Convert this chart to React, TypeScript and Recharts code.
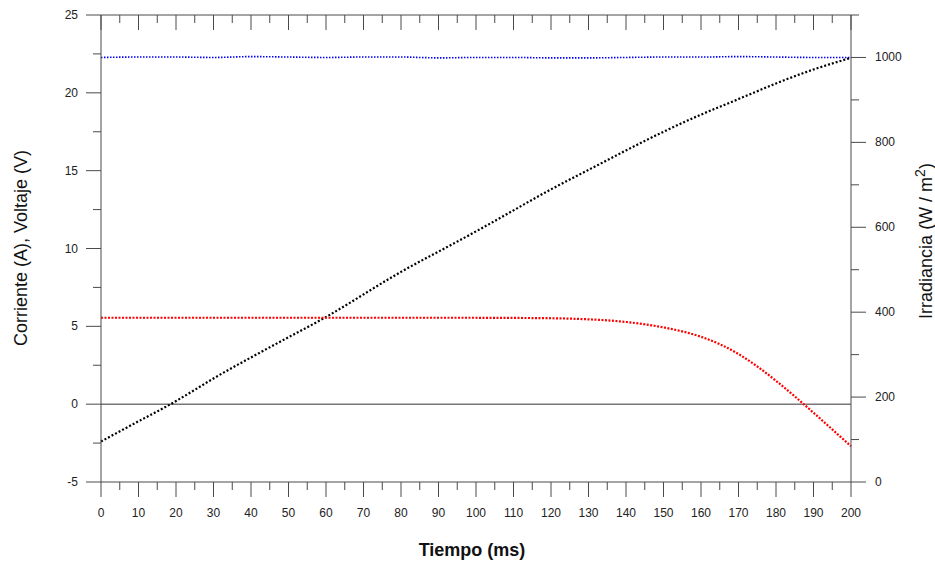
import { ComposedChart, Line, XAxis, YAxis, ReferenceLine } from 'recharts';

// tiempo (ms)
const tiempo = [0, 10, 20, 30, 40, 50, 60, 70, 80, 90, 100, 110, 120, 130, 140, 150, 160, 170, 180, 190, 200];
// voltaje (V), negro
const voltaje = [-2.4, -1.1, 0.2, 1.65, 3.0, 4.3, 5.6, 7.05, 8.5, 9.8, 11.1, 12.45, 13.8, 15.05, 16.3, 17.5, 18.6, 19.6, 20.6, 21.5, 22.25];
// corriente (A), rojo
const corriente = [5.55, 5.55, 5.55, 5.55, 5.55, 5.55, 5.55, 5.55, 5.55, 5.55, 5.55, 5.54, 5.52, 5.45, 5.28, 4.93, 4.33, 3.22, 1.5, -0.55, -2.7];
// irradiancia (W/m2), azul
const irradiancia = [1000, 1001, 1001, 1000, 1002, 1001, 1000, 1001, 1001, 999, 1000, 1000, 999, 999, 1000, 1001, 1001, 1002, 1001, 1000, 1000];

const xTicks = [0, 5, 10, 15, 20, 25, 30, 35, 40, 45, 50, 55, 60, 65, 70, 75, 80, 85, 90, 95, 100, 105, 110, 115, 120, 125, 130, 135, 140, 145, 150, 155, 160, 165, 170, 175, 180, 185, 190, 195, 200];
const leftTicks = [-5, -2.5, 0, 2.5, 5, 7.5, 10, 12.5, 15, 17.5, 20, 22.5, 25];
const rightTicks = [0, 100, 200, 300, 400, 500, 600, 700, 800, 900, 1000, 1100];

const data = tiempo.map((t, i) => ({ t, v: voltaje[i], c: corriente[i], g: irradiancia[i] }));

const AXIS = '#4a4a4a';
const FONT = '"Liberation Sans", Arial, sans-serif';

const BottomTick = (props: any) => {
    const { x, y, payload } = props;
    const major = payload.value % 10 === 0;
    return (
        <g>
            <line x1={x} x2={x} y1={y} y2={y + (major ? 15 : 8)} stroke={AXIS} />
            {major && <text x={x} y={y + 35} textAnchor="middle" fontSize={12} fontFamily={FONT} fill="#222">{payload.value}</text>}
        </g>
    );
};

const TopTick = (props: any) => {
    const { x, y, payload } = props;
    const major = payload.value % 10 === 0;
    return <line x1={x} x2={x} y1={y} y2={y + (major ? 15 : 8)} stroke={AXIS} />;
};

const LeftTick = (props: any) => {
    const { x, y, payload } = props;
    const major = payload.value % 5 === 0;
    return (
        <g>
            <line x1={x - (major ? 15 : 8)} x2={x} y1={y} y2={y} stroke={AXIS} />
            {major && <text x={x - 23} y={y + 4} textAnchor="end" fontSize={12} fontFamily={FONT} fill="#222">{payload.value}</text>}
        </g>
    );
};

const RightTick = (props: any) => {
    const { x, y, payload } = props;
    const major = payload.value % 200 === 0;
    return (
        <g>
            <line x1={x} x2={x + (major ? 15 : 8)} y1={y} y2={y} stroke={AXIS} />
            {major && <text x={x + 24} y={y + 4} textAnchor="start" fontSize={12} fontFamily={FONT} fill="#222">{payload.value}</text>}
        </g>
    );
};

export default function App() {
    return (
        <div style={{ position: 'absolute', left: 0, top: 0, width: 935, height: 561, background: '#fff', fontFamily: FONT }}>
            <ComposedChart width={935} height={561} data={data} margin={{ top: 14, right: 0, left: 0, bottom: 0 }}>
                <XAxis xAxisId="b" dataKey="t" type="number" domain={[0, 200]} ticks={xTicks} interval={0}
                    height={79} tickSize={0} tickMargin={0} tick={<BottomTick />} stroke={AXIS} />
                <XAxis xAxisId="top" orientation="top" dataKey="t" type="number" domain={[0, 200]} ticks={xTicks} interval={0}
                    height={1} tickSize={0} tickMargin={0} tick={<TopTick />} stroke={AXIS} />
                <YAxis yAxisId="l" type="number" domain={[-5, 25]} ticks={leftTicks} interval={0}
                    width={101} tickSize={0} tickMargin={0} tick={<LeftTick />} stroke={AXIS} />
                <YAxis yAxisId="r" orientation="right" type="number" domain={[0, 1100]} ticks={rightTicks} interval={0}
                    width={84} tickSize={0} tickMargin={0} tick={<RightTick />} stroke={AXIS} />
                <ReferenceLine xAxisId="b" yAxisId="l" y={0} stroke="#333" strokeWidth={1} />
                <Line xAxisId="b" yAxisId="r" dataKey="g" type="monotone" stroke="#0000ff" strokeWidth={1.6}
                    strokeDasharray="1.5 1.5" dot={false} isAnimationActive={false} />
                <Line xAxisId="b" yAxisId="l" dataKey="v" type="natural" stroke="#000" strokeWidth={2.2}
                    strokeDasharray="2 2" dot={false} isAnimationActive={false} />
                <Line xAxisId="b" yAxisId="l" dataKey="c" type="natural" stroke="#ff0000" strokeWidth={2.2}
                    strokeDasharray="2 1.5" dot={false} isAnimationActive={false} />
            </ComposedChart>
            <div style={{ position: 'absolute', left: 21, top: 248, transform: 'translate(-50%, -50%) rotate(-90deg)', whiteSpace: 'nowrap', fontSize: 18, color: '#111' }}>
                Corriente (A), Voltaje (V)
            </div>
            <div style={{ position: 'absolute', left: 924, top: 241, transform: 'translate(-50%, -50%) rotate(-90deg)', whiteSpace: 'nowrap', fontSize: 18, color: '#111' }}>
                Irradiancia (W / m<sup style={{ fontSize: 14 }}>2</sup>)
            </div>
            <div style={{ position: 'absolute', left: 472, top: 550, transform: 'translate(-50%, -50%)', whiteSpace: 'nowrap', fontSize: 18, fontWeight: 'bold', color: '#111' }}>
                Tiempo (ms)
            </div>
        </div>
    );
}
